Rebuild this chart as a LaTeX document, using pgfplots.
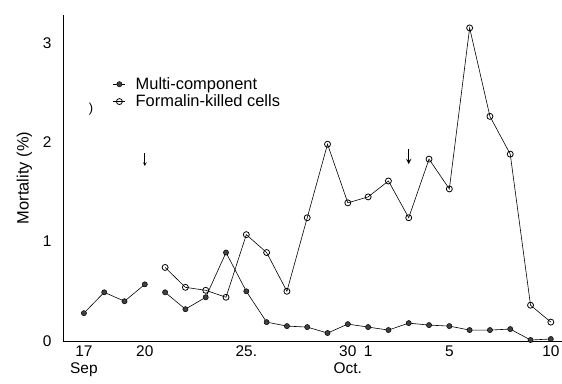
\documentclass[border=0pt]{standalone}
\usepackage{fontspec}
\setmainfont{Liberation Sans}
\usepackage{pgfplots}
\pgfplotsset{compat=1.18}
\begin{document}
\begin{tikzpicture}[x=1bp,y=1bp]
\useasboundingbox (-63bp,-43bp) rectangle (499bp,341bp);
\begin{axis}[
  scale only axis, width=499bp, height=326bp,
  at={(0,0)}, anchor=south west,
  xmin=-1.03, xmax=23.55, ymin=0, ymax=3.28,
  axis lines*=left,
  axis line style={line width=0.8pt},
  major tick length=0pt,
  xtick={0,3,8,13,14,18,23},
  xticklabels={{17\\Sep},20,25.,{30\\Oct.},1,5,10},
  xticklabel style={align=center, anchor=north, yshift=-1bp, font=\fontsize{15.5}{17.5}\selectfont},
  ytick={0,1,2,3},
  yticklabels={0,1,2,3},
  yticklabel style={font=\fontsize{15.5}{17}\selectfont, xshift=-8bp},
  ylabel={Mortality (\%)},
  ylabel style={font=\fontsize{16.5}{18}\selectfont, yshift=4bp},
  legend style={draw=none, fill=none, at={(0.1,0.815)}, anchor=north west,
    font=\fontsize{16.5}{18}\selectfont, row sep=0bp, inner sep=0pt},
  legend image code/.code={\draw[#1] (0bp,0bp) -- (12bp,0bp); \draw[#1, mark repeat=1] plot coordinates {(6bp,0bp)};},
  legend cell align=left,
  clip=false,
]
\addplot[black, line width=0.6pt, mark=*, mark size=2.6bp, mark options={fill=black!75, line width=0.5pt}, unbounded coords=jump]
coordinates {(0,0.28) (1,0.49) (2,0.40) (3,0.57) (3.5,nan) (4,0.49) (5,0.32) (6,0.44) (7,0.89) (8,0.50) (9,0.19) (10,0.15) (11,0.14) (12,0.08) (13,0.17) (14,0.14) (15,0.11) (16,0.18) (17,0.16) (18,0.15) (19,0.11) (20,0.11) (21,0.12) (22,0.01) (23,0.02)};
\addlegendentry{\hspace{8bp}Multi-component}
\addplot[black, line width=0.6pt, mark=o, mark size=3bp, mark options={fill=white, line width=0.8pt}]
coordinates {(4,0.74) (5,0.54) (6,0.51) (7,0.44) (8,1.07) (9,0.89) (10,0.50) (11,1.24) (12,1.98) (13,1.39) (14,1.45) (15,1.61) (16,1.24) (17,1.83) (18,1.53) (19,3.15) (20,2.26) (21,1.88) (22,0.36) (23,0.19)};
\addlegendentry{\hspace{8bp}Formalin-killed cells}
\draw[-stealth, line width=0.7pt] (axis cs:3,1.89) -- (axis cs:3,1.76);
\draw[-stealth, line width=1.3pt] (axis cs:16,1.93) -- (axis cs:16,1.78);
\node[font=\fontsize{13}{15}\selectfont] at (axis cs:0.35,2.33) {)};
\end{axis}
\end{tikzpicture}
\end{document}
